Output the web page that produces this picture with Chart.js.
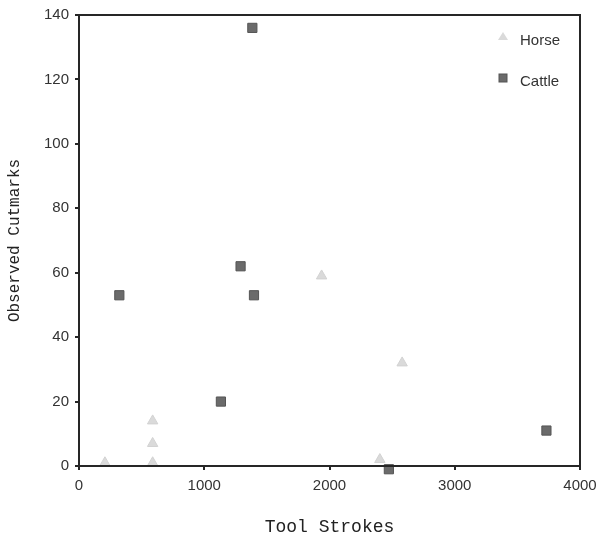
<!DOCTYPE html>
<html>
<head>
<meta charset="utf-8">
<script src="https://cdn.jsdelivr.net/npm/chart.js@4/dist/chart.umd.min.js"></script>
<style>
	body { margin: 0; background: #ffffff; }
	#wrap { width: 598px; height: 538px; }
</style>
</head>
<body>
<div id="wrap"><canvas id="chart" width="598" height="538"></canvas></div>
<script>
// values
var horseStrokes = [207, 588, 588, 588, 1937, 2580, 2402];
var horseCutmarks = [1, 14, 7, 1, 59, 32, 2];
var cattleStrokes = [322, 1133, 1290, 1397, 1384, 3732, 2474];
var cattleCutmarks = [53, 20, 62, 53, 136, 11, -1];
var seriesNames = ["Horse", "Cattle"];
var xTicks = [0, 1000, 2000, 3000, 4000];
var yTicks = [0, 20, 40, 60, 80, 100, 120, 140];

var tickFont = '"Liberation Sans", Arial, sans-serif';
var titleFont = '"Liberation Mono", "Courier New", monospace';

function toPoints(xs, ys)
{
	var pts = [];
	for (var i = 0; i < xs.length; i++)
	{
		pts.push({x: xs[i], y: ys[i]});
	}
	return pts;
}

// frame around the plot and the legend inside it
var boxPlugin = {
	id: 'boxPlugin',
	afterDraw: function(chart)
	{
		var ctx = chart.ctx;
		var a = chart.chartArea;
		ctx.save();
		ctx.strokeStyle = '#262626';
		ctx.lineWidth = 2;
		ctx.strokeRect(a.left, a.top, a.right - a.left, a.bottom - a.top);

		ctx.font = '15px ' + tickFont;
		ctx.textBaseline = 'middle';
		ctx.textAlign = 'left';
		var rows = [40, 81];
		for (var i = 0; i < chart.data.datasets.length; i++)
		{
			var ds = chart.data.datasets[i];
			var y = rows[i];
			ctx.fillStyle = ds.backgroundColor;
			ctx.strokeStyle = ds.borderColor;
			ctx.lineWidth = 1;
			if (ds.pointStyle === 'triangle')
			{
				ctx.beginPath();
				ctx.moveTo(503, y - 8);
				ctx.lineTo(508, y);
				ctx.lineTo(498, y);
				ctx.closePath();
				ctx.fill();
			}
			else
			{
				ctx.fillRect(499, y - 7, 8, 8);
				ctx.strokeRect(499, y - 7, 8, 8);
			}
			ctx.fillStyle = '#333333';
			ctx.fillText(ds.label, 520, y + 1);
		}
		ctx.restore();
	}
};

var createdChart = new Chart(document.getElementById('chart'), {
	type: 'scatter',
	data: {
		datasets: [{
			label: seriesNames[0],
			data: toPoints(horseStrokes, horseCutmarks),
			pointStyle: 'triangle',
			pointRadius: 6,
			backgroundColor: '#dadada',
			borderColor: '#d2d2d2',
			borderWidth: 1,
			clip: false
		}, {
			label: seriesNames[1],
			data: toPoints(cattleStrokes, cattleCutmarks),
			pointStyle: 'rect',
			pointRadius: 6.5,
			backgroundColor: '#6b6b6b',
			borderColor: '#555555',
			borderWidth: 1,
			clip: false
		}]
	},
	options: {
		responsive: false,
		maintainAspectRatio: false,
		animation: false,
		layout: {
			padding: {top: 12, right: 18, left: 0, bottom: 0}
		},
		plugins: {
			legend: { display: false },
			tooltip: { enabled: false }
		},
		scales: {
			x: {
				type: 'linear',
				min: 0,
				max: 4000,
				afterBuildTicks: function(axis)
				{
					axis.ticks = xTicks.map(function(v) { return {value: v}; });
				},
				afterFit: function(axis)
				{
					axis.height = 72;
					axis.paddingLeft = 0;
					axis.paddingRight = 0;
				},
				border: { display: true, color: '#262626', width: 2 },
				grid: { display: true, drawOnChartArea: false, drawTicks: true, tickLength: 4, color: '#262626', lineWidth: 2 },
				ticks: {
					color: '#333333',
					padding: 7,
					maxRotation: 0,
					font: { family: tickFont, size: 15 },
					callback: function(v) { return String(v); }
				},
				title: {
					display: true,
					text: 'Tool Strokes',
					color: '#222222',
					padding: {top: 10, bottom: 0},
					font: { family: titleFont, size: 18 }
				}
			},
			y: {
				type: 'linear',
				min: 0,
				max: 140,
				afterBuildTicks: function(axis)
				{
					axis.ticks = yTicks.map(function(v) { return {value: v}; });
				},
				afterFit: function(axis)
				{
					axis.width = 79;
				},
				border: { display: true, color: '#262626', width: 2 },
				grid: { display: true, drawOnChartArea: false, drawTicks: true, tickLength: 4, color: '#262626', lineWidth: 2 },
				ticks: {
					color: '#333333',
					padding: 6,
					font: { family: tickFont, size: 15 },
					callback: function(v) { return String(v); }
				},
				title: {
					display: true,
					text: 'Observed Cutmarks',
					color: '#222222',
					padding: {top: 5, bottom: 0},
					font: { family: titleFont, size: 16 }
				}
			}
		}
	},
	plugins: [boxPlugin]
});
</script>
</body>
</html>
